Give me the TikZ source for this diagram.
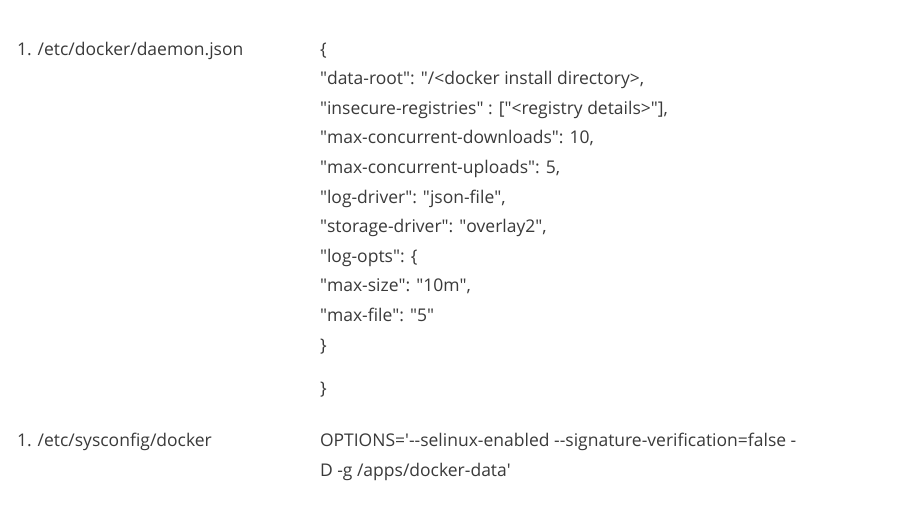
\documentclass[tikz,border=0pt]{standalone}
\usepackage{fontspec}
\setmainfont{Open Sans}
\newcommand{\dq}{\textquotedbl}
\newcommand{\sq}{\textquotesingle}
\definecolor{txt}{HTML}{3A3A3A}
\begin{document}
\begin{tikzpicture}[x=1pt,y=-1pt,
  txtnode/.style={anchor=base west,inner sep=0pt,outer sep=0pt,text=txt,font=\fontsize{17.5}{21}\selectfont}]
\useasboundingbox[fill=white] (0,0) rectangle (904,525);
\node[txtnode] (f1) at (17,55) {1. /etc/docker/daemon.json};
\node[txtnode] (j0) at (320,55) {\{};
\node[txtnode] (j1) at (320,84.6) {\dq data-root\dq: \dq/<docker install directory>,};
\node[txtnode] (j2) at (320,114.2) {\dq insecure-registries\dq{} : [\dq<registry details>\dq],};
\node[txtnode] (j3) at (320,143.8) {\dq max-concurrent-downloads\dq: 10,};
\node[txtnode] (j4) at (320,173.4) {\dq max-concurrent-uploads\dq: 5,};
\node[txtnode] (j5) at (320,203) {\dq log-driver\dq: \dq json-file\dq,};
\node[txtnode] (j6) at (320,232.6) {\dq storage-driver\dq: \dq overlay2\dq,};
\node[txtnode] (j7) at (320,262.2) {\dq log-opts\dq: \{};
\node[txtnode] (j8) at (320,291.8) {\dq max-size\dq: \dq 10m\dq,};
\node[txtnode] (j9) at (320,321.4) {\dq max-file\dq: \dq 5\dq};
\node[txtnode] (j10) at (320,351) {\}};
\node[txtnode] (j11) at (320,394) {\}};
\node[txtnode] (f2) at (17,446) {1. /etc/sysconfig/docker};
\node[txtnode] (o1) at (320,446) {OPTIONS=\sq-{}-selinux-enabled -{}-signature-verification=false -};
\node[txtnode] (o2) at (320,476) {D -g /apps/docker-data\sq};
\end{tikzpicture}
\end{document}
